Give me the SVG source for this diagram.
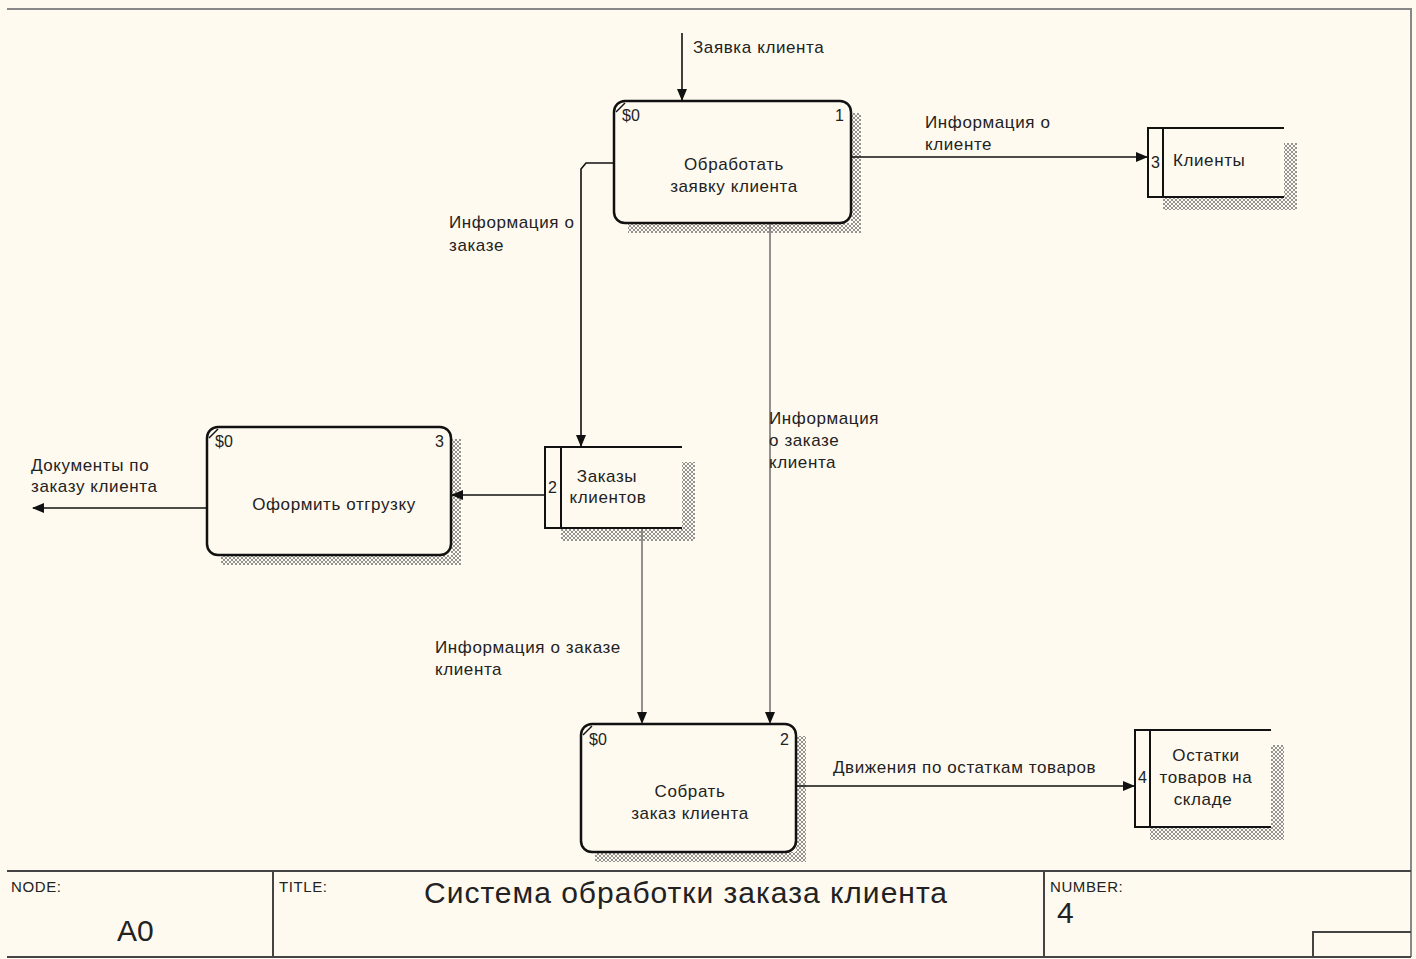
<svg xmlns="http://www.w3.org/2000/svg" width="1416" height="959" viewBox="0 0 1416 959">
<style>
text{font-family:"Liberation Sans",Arial,sans-serif;fill:#222}
.lbl{font-size:17px;letter-spacing:0.6px}
.ctr{text-anchor:middle}
.box{fill:#fffaf0;stroke:#111;stroke-width:2.5}
.ln{fill:none;stroke:#111;stroke-width:1.6}
.gl{fill:none;stroke:#777;stroke-width:1.6}
.tb{fill:none;stroke:#444;stroke-width:2}
.sm{font-size:16px}
.hd{font-size:15px;letter-spacing:0.6px}
</style>
<defs>
<pattern id="hatch" width="4" height="4" patternUnits="userSpaceOnUse">
<rect width="4" height="4" fill="#fffaf0"/>
<path d="M0,4 L4,0 M0,0 L4,4" stroke="#888" stroke-width="0.9"/>
</pattern>
<marker id="ah" markerWidth="12" markerHeight="10" refX="11" refY="5" orient="auto" markerUnits="userSpaceOnUse">
<path d="M0,0 L12,5 L0,10 Z" fill="#111"/>
</marker>
</defs>
<rect width="1416" height="959" fill="#fffaf0"/>
<path d="M7,9 H1411 V957" fill="none" stroke="#888" stroke-width="2"/>

<g id="node-a1">
<path d="M861,113 V233 H628 V223 H851 V113 Z" fill="url(#hatch)"/>
<rect class="box" x="614" y="101" width="237" height="122" rx="11"/>
<path d="M616,112 L625,103" stroke="#111" stroke-width="1.5"/>
<text class="sm" x="622" y="121">$0</text>
<text class="sm" x="835" y="121">1</text>
<text class="lbl ctr" x="734" y="170">Обработать</text>
<text class="lbl ctr" x="734" y="192">заявку клиента</text>
</g>

<g id="node-a3">
<path d="M461,439 V565 H221 V555 H451 V439 Z" fill="url(#hatch)"/>
<rect class="box" x="207" y="427" width="244" height="128" rx="11"/>
<path d="M209,438 L218,429" stroke="#111" stroke-width="1.5"/>
<text class="sm" x="215" y="447">$0</text>
<text class="sm" x="435" y="447">3</text>
<text class="lbl ctr" x="334" y="510">Оформить отгрузку</text>
</g>

<g id="node-a2">
<path d="M806,736 V862 H595 V852 H796 V736 Z" fill="url(#hatch)"/>
<rect class="box" x="581" y="724" width="215" height="128" rx="11"/>
<path d="M583,735 L592,726" stroke="#111" stroke-width="1.5"/>
<text class="sm" x="589" y="745">$0</text>
<text class="sm" x="780" y="745">2</text>
<text class="lbl ctr" x="690" y="797">Собрать</text>
<text class="lbl ctr" x="690" y="819">заказ клиента</text>
</g>

<g id="store-3">
<path d="M1284,143 H1297 V210 H1163 V197 H1284 Z" fill="url(#hatch)"/>
<rect x="1148" y="128" width="136" height="69" fill="#fffaf0"/>
<path d="M1284,128 H1148 V197 H1284 M1163,128 V197" fill="none" stroke="#111" stroke-width="2"/>
<text class="sm" x="1151" y="168">3</text>
<text class="lbl" x="1173" y="166">Клиенты</text>
</g>

<g id="store-2">
<path d="M682,462 H695 V541 H561 V528 H682 Z" fill="url(#hatch)"/>
<rect x="545" y="447" width="137" height="81" fill="#fffaf0"/>
<path d="M682,447 H545 V528 H682 M561,447 V528" fill="none" stroke="#111" stroke-width="2"/>
<text class="sm" x="548" y="493">2</text>
<text class="lbl ctr" x="607" y="482">Заказы</text>
<text class="lbl ctr" x="608" y="503">клиентов</text>
</g>

<g id="store-4">
<path d="M1271,745 H1284 V840 H1150 V827 H1271 Z" fill="url(#hatch)"/>
<rect x="1135" y="730" width="136" height="97" fill="#fffaf0"/>
<path d="M1271,730 H1135 V827 H1271 M1150,730 V827" fill="none" stroke="#111" stroke-width="2"/>
<text class="sm" x="1138" y="783">4</text>
<text class="lbl ctr" x="1206" y="761">Остатки</text>
<text class="lbl ctr" x="1206" y="783">товаров на</text>
<text class="lbl ctr" x="1203" y="805">складе</text>
</g>

<g id="connectors">
<path class="ln" d="M682,33 V100" marker-end="url(#ah)"/>
<path class="ln" d="M851,157 H1147" marker-end="url(#ah)"/>
<path class="ln" d="M614,163 H586 L581,169 V446" marker-end="url(#ah)"/>
<path class="gl" d="M770,224 V723" marker-end="url(#ah)"/>
<path class="gl" d="M642,529 V723" marker-end="url(#ah)"/>
<path class="ln" d="M545,495 H452" marker-end="url(#ah)"/>
<path class="ln" d="M207,508 H33" marker-end="url(#ah)"/>
<path class="ln" d="M796,786 H1134" marker-end="url(#ah)"/>
<text class="lbl" x="693" y="53">Заявка клиента</text>
<text class="lbl" x="925" y="128">Информация о</text>
<text class="lbl" x="925" y="150">клиенте</text>
<text class="lbl" x="449" y="228">Информация о</text>
<text class="lbl" x="449" y="251">заказе</text>
<text class="lbl" x="769" y="424">Информация</text>
<text class="lbl" x="769" y="446">о заказе</text>
<text class="lbl" x="769" y="468">клиента</text>
<text class="lbl" x="435" y="653">Информация о заказе</text>
<text class="lbl" x="435" y="675">клиента</text>
<text class="lbl" x="31" y="471">Документы по</text>
<text class="lbl" x="31" y="492">заказу клиента</text>
<text class="lbl" x="833" y="773">Движения по остаткам товаров</text>
</g>

<g id="title-block">
<path class="tb" d="M7,871 H1411 M7,957 H1411 M273,871 V957 M1044,871 V957 M1313,957 V932 H1411"/>
<text class="hd" x="11" y="892">NODE:</text>
<text x="117" y="941" style="font-size:30px">A0</text>
<text class="hd" x="279" y="892">TITLE:</text>
<text x="424" y="903" style="font-size:30px;letter-spacing:1px">Система обработки заказа клиента</text>
<text class="hd" x="1050" y="892">NUMBER:</text>
<text x="1057" y="923" style="font-size:30px">4</text>
</g>
</svg>
